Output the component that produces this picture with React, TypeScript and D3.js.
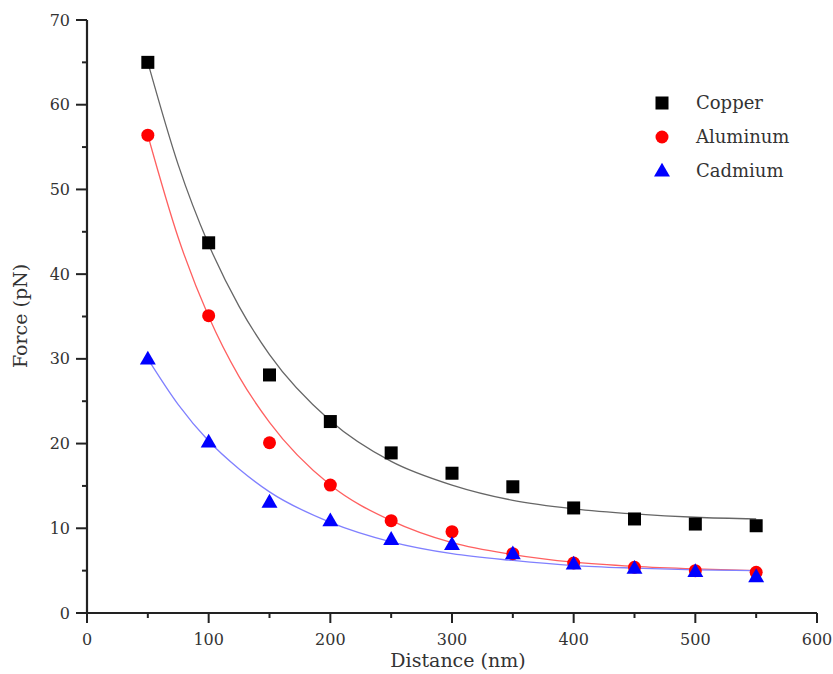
import React from "react";
import * as d3 from "d3";

const distances = [50, 100, 150, 200, 250, 300, 350, 400, 450, 500, 550];
const copper = [65.0, 43.7, 28.1, 22.6, 18.9, 16.5, 14.9, 12.4, 11.1, 10.5, 10.3];
const aluminum = [56.4, 35.1, 20.1, 15.1, 10.9, 9.6, 7.0, 5.9, 5.4, 5.0, 4.8];
const cadmium = [30.0, 20.2, 13.1, 10.9, 8.7, 8.1, 7.0, 5.8, 5.3, 4.9, 4.3];

const fitX = [50, 75, 100, 125, 150, 200, 250, 300, 350, 400, 450, 500, 550];
const copperFit = [65.0, 52.9, 43.5, 36.2, 30.5, 22.7, 17.9, 15.1, 13.3, 12.3, 11.7, 11.3, 11.1];
const aluminumFit = [56.4, 44.3, 35.0, 27.9, 22.5, 15.1, 10.9, 8.3, 6.9, 6.0, 5.5, 5.2, 5.0];
const cadmiumFit = [30.0, 24.6, 20.3, 17.0, 14.3, 10.7, 8.4, 7.0, 6.2, 5.6, 5.3, 5.1, 5.0];

const xTicks = [0, 100, 200, 300, 400, 500, 600];
const xMinor = [50, 150, 250, 350, 450, 550];
const yTicks = [0, 10, 20, 30, 40, 50, 60, 70];
const yMinor = [5, 15, 25, 35, 45, 55, 65];

const seriesNames = ["Copper", "Aluminum", "Cadmium"];

export default function App() {
  const W = 833, H = 674;
  const x = d3.scaleLinear().domain([0, 600]).range([87, 817]);
  const y = d3.scaleLinear().domain([0, 70]).range([613, 20]);
  const font = "'DejaVu Serif', serif";
  const textColor = "#333";

  const line = d3.line<number>()
    .x((_, i) => x(fitX[i]))
    .y((d) => y(d))
    .curve(d3.curveMonotoneX);

  const series = [
    { name: seriesNames[0], data: copper, fit: copperFit, color: "#000", lineColor: "#666", shape: "square" },
    { name: seriesNames[1], data: aluminum, fit: aluminumFit, color: "#ff0000", lineColor: "#ff6060", shape: "circle" },
    { name: seriesNames[2], data: cadmium, fit: cadmiumFit, color: "#0000ff", lineColor: "#8080ff", shape: "triangle" },
  ];

  const marker = (shape: string, cx: number, cy: number, color: string, key: string) => {
    if (shape === "square") return <rect key={key} x={cx - 6.5} y={cy - 6.5} width={13} height={13} fill={color} />;
    if (shape === "circle") return <circle key={key} cx={cx} cy={cy} r={6.5} fill={color} />;
    const tri = d3.symbol().type(d3.symbolTriangle).size(110)();
    return <path key={key} d={tri as string} transform={`translate(${cx},${cy + 1})`} fill={color} />;
  };

  return (
    <svg width={W} height={H} style={{ display: "block", position: "absolute", left: 0, top: 0, background: "#fff" }}>
      <rect width={W} height={H} fill="#fff" />
      {series.map((s) => (
        <path key={s.name + "fit"} d={line(s.fit) as string} fill="none" stroke={s.lineColor} strokeWidth={1.3} />
      ))}
      {series.map((s) => s.data.map((v, i) => marker(s.shape, x(distances[i]), y(v), s.color, s.name + i)))}
      <line x1={87} x2={87} y1={y(70)} y2={y(0) + 1} stroke="#222" strokeWidth={2.2} />
      <line x1={86} x2={x(600)} y1={y(0)} y2={y(0)} stroke="#222" strokeWidth={2.2} />
      {yTicks.map((t) => (
        <g key={"yt" + t}>
          <line x1={76} x2={87} y1={y(t)} y2={y(t)} stroke="#222" strokeWidth={2} />
          <text x={70} y={y(t)} dy="0.35em" textAnchor="end" fontFamily={font} fontSize={16} fill={textColor}>{t}</text>
        </g>
      ))}
      {yMinor.map((t) => (
        <line key={"ym" + t} x1={82} x2={87} y1={y(t)} y2={y(t)} stroke="#222" strokeWidth={2} />
      ))}
      {xTicks.map((t) => (
        <g key={"xt" + t}>
          <line x1={x(t)} x2={x(t)} y1={y(0)} y2={y(0) + 10} stroke="#222" strokeWidth={2} />
          <text x={x(t)} y={639} dy="0.35em" textAnchor="middle" fontFamily={font} fontSize={16} fill={textColor}>{t}</text>
        </g>
      ))}
      {xMinor.map((t) => (
        <line key={"xm" + t} x1={x(t)} x2={x(t)} y1={y(0)} y2={y(0) + 5} stroke="#222" strokeWidth={2} />
      ))}
      <text x={458} y={667} textAnchor="middle" fontFamily={font} fontSize={19} fill={textColor}>Distance (nm)</text>
      <text transform={`translate(27,${316}) rotate(-90)`} textAnchor="middle" fontFamily={font} fontSize={19} fill={textColor}>Force (pN)</text>
      {series.map((s, i) => (
        <g key={"leg" + s.name}>
          {marker(s.shape, 662, 103 + i * 34, s.color, "lm" + i)}
          <text x={696} y={103 + i * 34} dy="0.35em" fontFamily={font} fontSize={18} fill={textColor}>{s.name}</text>
        </g>
      ))}
    </svg>
  );
}
